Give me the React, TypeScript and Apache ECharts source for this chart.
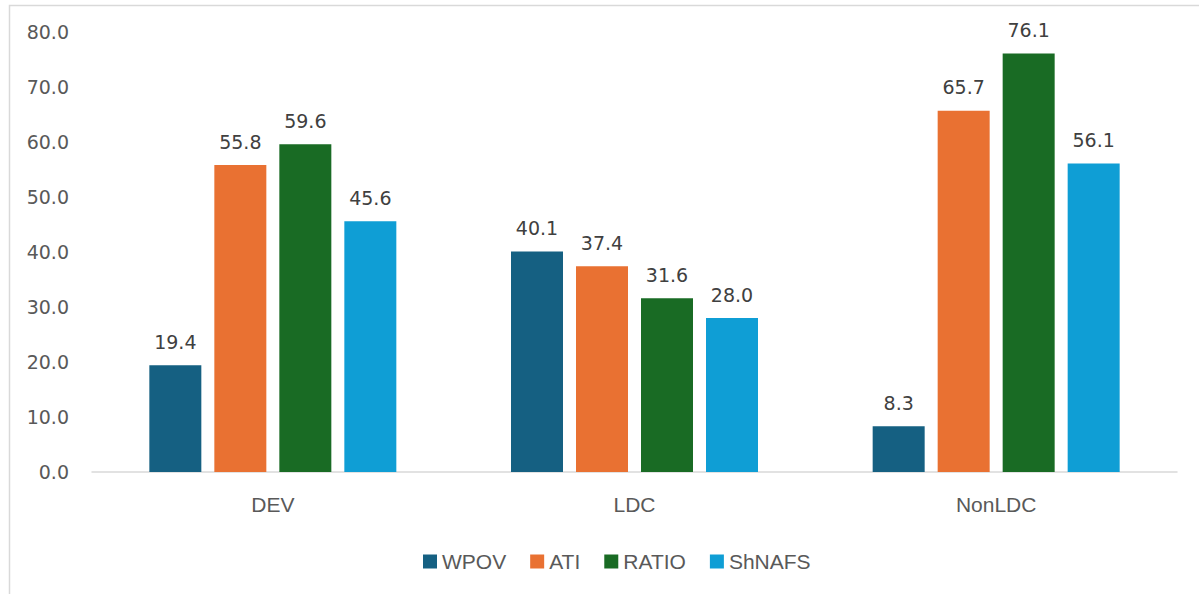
import React, { useEffect, useRef } from "react";
import * as echarts from "echarts";

const categories = ["DEV", "LDC", "NonLDC"];
const seriesNames = ["WPOV", "ATI", "RATIO", "ShNAFS"];
const wpov = [19.4, 40.1, 8.3];
const ati = [55.8, 37.4, 65.7];
const ratio = [59.6, 31.6, 76.1];
const shnafs = [45.6, 28.0, 56.1];
const colors = ["#156082", "#E97132", "#196B24", "#0F9ED5"];

const FONT = "Liberation Sans, Arial, sans-serif";
const NUMFONT = "DejaVu Sans, sans-serif";

export default function App() {
  const ref = useRef<HTMLDivElement>(null);
  useEffect(() => {
    if (!ref.current) return;
    const chart = echarts.init(ref.current, null, { renderer: "svg" });
    const values = [wpov, ati, ratio, shnafs];
    chart.setOption({
      animation: false,
      textStyle: { fontFamily: FONT },
      graphic: [
        {
          type: "rect",
          left: 7,
          top: 3,
          shape: { width: 1300, height: 700 },
          style: { fill: "none", stroke: "#d9d9d9", lineWidth: 1.5 },
          silent: true,
        },
      ],
      grid: { left: 92, right: 22, top: 32, bottom: 122, containLabel: false },
      legend: {
        left: 418,
        top: 546,
        itemWidth: 14,
        itemHeight: 14,
        itemGap: 24,
        icon: "rect",
        textStyle: { fontSize: 21, color: "#595959", fontFamily: FONT },
        data: seriesNames,
      },
      xAxis: {
        type: "category",
        data: categories,
        axisLine: { lineStyle: { color: "#d9d9d9", width: 1.5 } },
        axisTick: { show: false },
        axisLabel: { fontSize: 21, color: "#595959", margin: 22, fontFamily: FONT },
      },
      yAxis: {
        type: "value",
        min: 0,
        max: 80,
        interval: 10,
        splitLine: { show: false },
        axisLine: { show: false },
        axisTick: { show: false },
        axisLabel: {
          fontSize: 19,
          color: "#595959",
          margin: 23,
          fontFamily: NUMFONT,
          formatter: (v: number) => v.toFixed(1),
        },
      },
      series: seriesNames.map((name, i) => ({
        name,
        type: "bar",
        data: values[i],
        barWidth: 52,
        barGap: "25%",
        itemStyle: { color: colors[i] },
        label: {
          show: true,
          position: "top",
          distance: 14,
          fontSize: 19,
          color: "#404040",
          fontFamily: NUMFONT,
          formatter: (p: any) => Number(p.value).toFixed(1),
        },
      })),
    });
    return () => chart.dispose();
  }, []);
  return (
    <div
      ref={ref}
      style={{ position: "fixed", left: 0, top: 0, width: 1199, height: 594, background: "#fff" }}
    />
  );
}
